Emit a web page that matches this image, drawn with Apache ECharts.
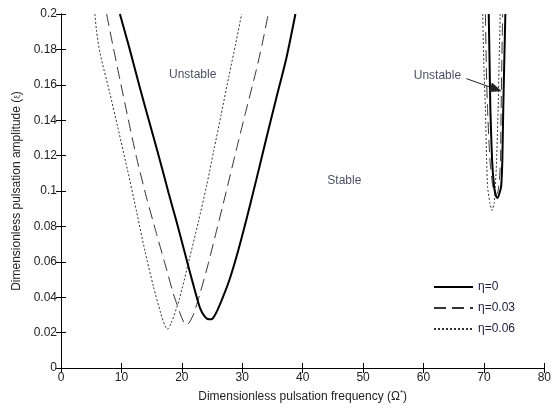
<!DOCTYPE html>
<html>
<head>
<meta charset="utf-8">
<script src="https://cdn.jsdelivr.net/npm/echarts@6/dist/echarts.min.js"></script>
<style>
  html, body { margin: 0; padding: 0; background: #fff; }
  #chart { width: 554px; height: 412px; }
</style>
</head>
<body>
<div id="chart"></div>
<script>
// Stability boundaries (instability tongues) for three damping ratios eta.
// Each tongue is traced down its left edge and back up its right edge: [Omega*, amplitude].
const eta0_low = [[9.75,0.2],[11.3,0.181],[13.0,0.159],[14.7,0.138],[16.4,0.117],[17.8,0.099],[19.1,0.083],[20.5,0.065],[21.9,0.047],[23.0,0.034],[23.8,0.029],[24.5,0.0275],[25.1,0.028],[25.8,0.032],[26.8,0.04],[27.9,0.05],[29.3,0.066],[30.7,0.084],[32.3,0.106],[34.0,0.13],[35.6,0.152],[37.3,0.175],[38.8,0.2]];
const eta003_low = [[7.55,0.2],[8.6,0.182],[9.75,0.163],[11.1,0.141],[12.5,0.119],[14.1,0.097],[15.8,0.076],[17.2,0.059],[18.6,0.042],[19.7,0.031],[20.3,0.026],[20.8,0.0243],[21.3,0.026],[22.0,0.031],[23.0,0.042],[24.3,0.058],[25.7,0.077],[27.3,0.099],[29.0,0.123],[30.6,0.145],[32.3,0.168],[33.3,0.183],[34.3,0.2]];
const eta006_low = [[5.6,0.2],[5.9,0.19],[6.45,0.178],[8.1,0.155],[9.4,0.136],[11.0,0.112],[12.5,0.0885],[13.9,0.066],[15.3,0.046],[16.5,0.031],[17.2,0.024],[17.6,0.0219],[18.2,0.025],[19.6,0.039],[21.2,0.061],[22.7,0.082],[24.1,0.103],[25.3,0.123],[26.5,0.143],[27.8,0.165],[28.9,0.183],[29.9,0.2]];

const eta0_high = [[70.8,0.2],[70.95,0.17],[71.07,0.146],[71.35,0.1175],[71.7,0.102],[72.0,0.097],[72.28,0.096],[72.6,0.099],[72.85,0.1024],[73.05,0.1175],[73.2,0.146],[73.35,0.17],[73.55,0.2]];
const eta003_high = [[70.25,0.2],[70.4,0.17],[70.6,0.146],[71.0,0.1175],[71.5,0.102],[72.0,0.0977],[72.35,0.1],[72.6,0.108],[72.75,0.1175],[72.85,0.146],[72.95,0.17],[73.1,0.2]];
const eta006_high = [[69.8,0.2],[70.0,0.17],[70.25,0.146],[70.45,0.1175],[70.6,0.1024],[71.0,0.093],[71.35,0.089],[71.7,0.093],[71.9,0.1024],[72.1,0.1175],[72.35,0.146],[72.5,0.17],[72.7,0.2]];

const seriesNames = ['\u03b7=0', '\u03b7=0.03', '\u03b7=0.06'];

// Region labels placed in data coordinates
const regionLabels = [
  { text: 'Unstable', at: [21.8, 0.1655] },
  { text: 'Stable',   at: [46.9, 0.106] },
  { text: 'Unstable', at: [62.3, 0.165] }
];
// Arrow pointing into the narrow high-frequency tongue
const arrowFrom = [67.1, 0.1635];
const arrowTo = [72.0, 0.1575];

const FONT = 'Liberation Sans, Arial, sans-serif';
const TEXT = '#222';

const styles = [
  { color: '#000', width: 2, type: 'solid' },
  { color: '#333', width: 1, type: [12, 6] },
  { color: '#333', width: 1, type: [2, 2] }
];
const lows = [eta0_low, eta003_low, eta006_low];
const highs = [eta0_high, eta003_high, eta006_high];

const series = [];
for (let i = 0; i < 3; i++) {
  [lows[i], highs[i]].forEach(function (d, k) {
    series.push({
      name: seriesNames[i],
      type: 'line',
      data: d,
      smooth: k === 0 ? 0.25 : 0.15,
      symbol: 'none',
      showSymbol: false,
      lineStyle: styles[i],
      itemStyle: { color: styles[i].color },
      z: 3 - i
    });
  });
}

series.push({
  name: 'labels',
  type: 'scatter',
  symbolSize: 0,
  data: regionLabels.map(function (r) { return { value: r.at, name: r.text }; }),
  label: {
    show: true,
    position: 'inside',
    formatter: function (p) { return p.name; },
    fontFamily: FONT,
    fontSize: 12,
    color: '#1c1c3a'
  },
  markLine: {
    silent: true,
    symbol: ['none', 'triangle'],
    symbolSize: [10, 12],
    label: { show: false },
    lineStyle: { color: '#222', width: 1, type: 'solid' },
    itemStyle: { color: '#000' },
    data: [[{ coord: arrowFrom }, { coord: arrowTo }]]
  }
});

const chart = echarts.init(document.getElementById('chart'), null, { renderer: 'canvas' });
chart.setOption({
  animation: false,
  backgroundColor: '#fff',
  grid: { left: 61, right: 9, top: 14, bottom: 44 },
  legend: {
    data: seriesNames,
    orient: 'vertical',
    left: 433,
    top: 281,
    padding: 0,
    itemWidth: 39,
    itemHeight: 14,
    itemGap: 9,
    itemStyle: { color: 'transparent', borderWidth: 0, opacity: 0 },
    textStyle: { fontFamily: FONT, fontSize: 12, color: '#1c1c3a', padding: [0, 0, 0, 0] }
  },
  xAxis: [{
    type: 'value', min: 0, max: 80, interval: 10,
    name: 'Dimensionless pulsation frequency (\u03a9{sup|*})',
    nameLocation: 'middle', nameGap: 14,
    nameTextStyle: {
      fontFamily: FONT, fontSize: 12, color: TEXT,
      rich: { sup: { fontFamily: FONT, fontSize: 8, color: TEXT, padding: [0, 0, 8, 0] } }
    },
    axisLine: { show: true, lineStyle: { color: '#000', width: 1 } },
    axisTick: { show: true, inside: true, length: 5, lineStyle: { color: '#000' } },
    axisLabel: { fontFamily: FONT, fontSize: 12, color: TEXT, margin: 4 },
    splitLine: { show: false }
  }, {
    type: 'value', min: 0, max: 80, interval: 10, position: 'top',
    axisLine: { show: true, lineStyle: { color: '#000', width: 1 } },
    axisTick: { show: true, inside: true, length: 5, lineStyle: { color: '#000' } },
    axisLabel: { show: false },
    splitLine: { show: false }
  }],
  yAxis: [{
    type: 'value', min: 0, max: 0.2, interval: 0.02,
    name: 'Dimensionless pulsation amplitude ({s|\u03be})',
    nameLocation: 'middle', nameGap: 33, nameRotate: 90,
    nameTextStyle: {
      fontFamily: FONT, fontSize: 12, color: TEXT,
      rich: { s: { fontFamily: FONT, fontSize: 8, color: TEXT } }
    },
    axisLine: { show: true, lineStyle: { color: '#000', width: 1 } },
    axisTick: { show: true, inside: true, length: 5, lineStyle: { color: '#000' } },
    axisLabel: { fontFamily: FONT, fontSize: 12, color: TEXT, margin: 4 },
    splitLine: { show: false }
  }, {
    type: 'value', min: 0, max: 0.2, interval: 0.02, position: 'right',
    axisLine: { show: true, lineStyle: { color: '#000', width: 1 } },
    axisTick: { show: true, inside: true, length: 5, lineStyle: { color: '#000' } },
    axisLabel: { show: false },
    splitLine: { show: false }
  }],
  series: series
});
</script>
</body>
</html>
